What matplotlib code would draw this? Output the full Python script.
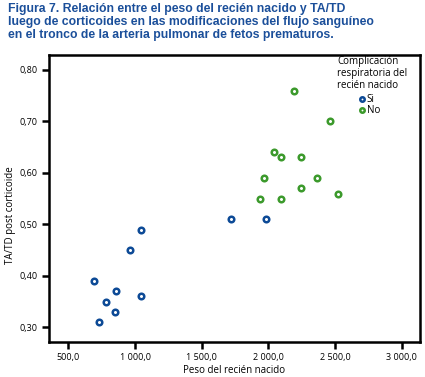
import numpy as np
import matplotlib.pyplot as plt
from matplotlib.ticker import FixedLocator, FuncFormatter

# data
peso_si = [690, 732, 783, 848, 855, 963, 1043, 1045, 1720, 1982]
tatd_si = [0.39, 0.31, 0.35, 0.33, 0.37, 0.45, 0.36, 0.49, 0.51, 0.51]
peso_no = [2194, 2464, 2044, 2097, 2244, 1965, 2367, 2244, 2524, 1935, 2097]
tatd_no = [0.76, 0.70, 0.64, 0.63, 0.63, 0.59, 0.59, 0.57, 0.56, 0.55, 0.55]
x_ticks = [500, 1000, 1500, 2000, 2500, 3000]
y_ticks = [0.30, 0.40, 0.50, 0.60, 0.70, 0.80]

blue = "#0d4a96"
green = "#3c9a2c"
title_col = "#1b4f9a"

plt.rcParams['font.family'] = ['Open Sans', 'DejaVu Sans']

fig = plt.figure(figsize=(4.25, 3.77), dpi=100)
ax = fig.add_axes([0.1153, 0.0928, 0.8727, 0.7612])

ax.scatter(peso_si, tatd_si, s=16, facecolor="white", edgecolor=blue,
           linewidth=1.8, zorder=3, label="Si")
ax.scatter(peso_no, tatd_no, s=16, facecolor="white", edgecolor=green,
           linewidth=1.8, zorder=3, label="No")

ax.set_xlim(355, 3136)
ax.set_ylim(0.2715, 0.829)

ax.xaxis.set_major_locator(FixedLocator(x_ticks))
ax.yaxis.set_major_locator(FixedLocator(y_ticks))
ax.xaxis.set_major_formatter(FuncFormatter(
    lambda v, p: f"{v:,.1f}".replace(",", " ").replace(".", ",")))
ax.yaxis.set_major_formatter(FuncFormatter(
    lambda v, p: f"{v:.2f}".replace(".", ",")))
ax.tick_params(axis="both", labelsize=6.5, width=1.8, length=5,
               direction="out", colors="black")
ax.tick_params(axis="x", pad=3)
for s in ax.spines.values():
    s.set_linewidth(1.8)

ax.set_xlabel("Peso del recién nacido", fontsize=7, labelpad=2)
ax.set_ylabel("TA/TD post corticoide", fontsize=7)
ax.yaxis.set_label_coords(-0.09, 0.443)

# legend
fig.text(337 / 425, 1 - 56 / 377,
         "Complicación\nrespiratoria del\nrecién nacido",
         fontsize=7, va="top", ha="left", linespacing=1.1)
leg = ax.legend(loc="upper left", bbox_to_anchor=((352 - 49) / 371, 1 - 34 / 287),
                frameon=False, fontsize=7, handletextpad=0.0,
                labelspacing=0.0, borderpad=0, handlelength=1.0,
                markerscale=0.8)

fig.text(0.019, 0.992,
         "Figura 7. Relación entre el peso del recién nacido y TA/TD\n"
         "luego de corticoides en las modificaciones del flujo sanguíneo\n"
         "en el tronco de la arteria pulmonar de fetos prematuros.",
         fontsize=8.8, fontweight="bold", color=title_col,
         family="Liberation Sans", va="top", ha="left", linespacing=1.12)

fig.savefig("out.png", dpi=100)
